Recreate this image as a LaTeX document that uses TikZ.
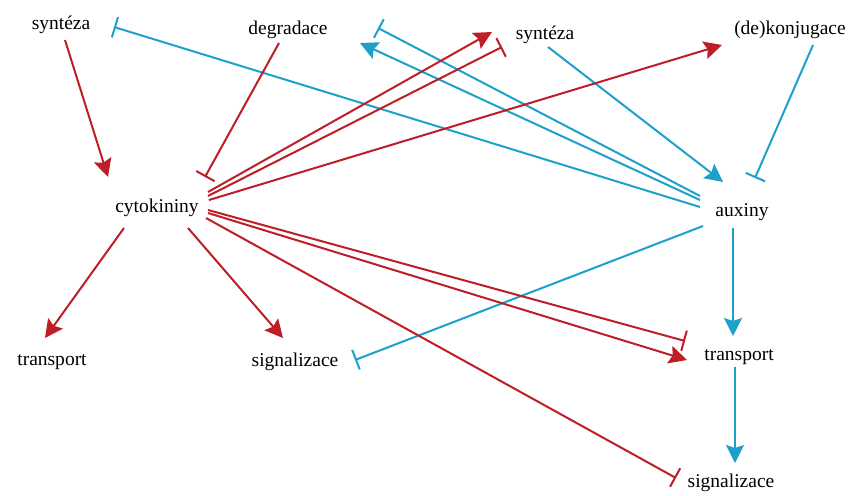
\documentclass[tikz,border=0pt]{standalone}
\usepackage{fontspec}
\setmainfont{Liberation Serif}
\usetikzlibrary{arrows.meta}
\definecolor{cred}{RGB}{190,30,40}
\definecolor{cblue}{RGB}{30,160,205}
\tikzset{
  lbl/.style={inner sep=0pt, font=\fontsize{19.5}{22}\selectfont, text=black},
  tip/.style={-{Stealth[length=18pt,width=18pt,inset=3pt]}},
  bar/.style={-{Bar[width=21pt,line width=2pt]}},
  ra/.style={draw=cred, line width=2pt, tip},
  rb/.style={draw=cred, line width=2pt, bar},
  ba/.style={draw=cblue, line width=2pt, tip},
  bb/.style={draw=cblue, line width=2pt, bar},
}
\begin{document}
\begin{tikzpicture}[x=1pt,y=-1pt]
\useasboundingbox[fill=white] (0,0) rectangle (850,495);
\node[lbl] (syn1) at (61,25) {syntéza};
\node[lbl] (deg) at (288,30) {degradace};
\node[lbl] (syn2) at (545,35) {syntéza};
\node[lbl] (konj) at (790,30) {(de)konjugace};
\node[lbl] (cyt) at (157,208) {cytokininy};
\node[lbl] (aux) at (742,212) {auxiny};
\node[lbl] (tr1) at (52,362) {transport};
\node[lbl] (sig1) at (295,362) {signalizace};
\node[lbl] (tr2) at (739,357) {transport};
\node[lbl] (sig2) at (731,483) {signalizace};
% blue (auxin)
\draw[bb] ([shift={(-42,-5)}]aux.center) -- ([shift={(53,2)}]syn1.center);
\draw[bb] ([shift={(-42,-16)}]aux.center) -- ([shift={(90,-2)}]deg.center);
\draw[ba] ([shift={(-42,-12)}]aux.center) -- ([shift={(72,13)}]deg.center);
\draw[ba] ([shift={(3,12)}]syn2.center) -- ([shift={(-19,-30)}]aux.center);
\draw[bb] ([shift={(23,15)}]konj.center) -- ([shift={(13,-34)}]aux.center);
\draw[bb] ([shift={(-39,14)}]aux.center) -- ([shift={(60,-2)}]sig1.center);
\draw[ba] ([shift={(-9,16)}]aux.center) -- ([shift={(-6,-21)}]tr2.center);
\draw[ba] ([shift={(-4,10)}]tr2.center) -- ([shift={(4,-20)}]sig2.center);
% red (cytokinin)
\draw[ra] ([shift={(4,15)}]syn1.center) -- ([shift={(-49,-31)}]cyt.center);
\draw[rb] ([shift={(-9,13)}]deg.center) -- ([shift={(48,-31)}]cyt.center);
\draw[ra] ([shift={(51,-16)}]cyt.center) -- ([shift={(-53,-3)}]syn2.center);
\draw[rb] ([shift={(51,-12)}]cyt.center) -- ([shift={(-43,12)}]syn2.center);
\draw[ra] ([shift={(52,-8)}]cyt.center) -- ([shift={(-68,15)}]konj.center);
\draw[ra] ([shift={(-33,20)}]cyt.center) -- ([shift={(-7,-24)}]tr1.center);
\draw[ra] ([shift={(31,20)}]cyt.center) -- ([shift={(-12,-24)}]sig1.center);
\draw[rb] ([shift={(51,2)}]cyt.center) -- ([shift={(-54,-16)}]tr2.center);
\draw[ra] ([shift={(51,5)}]cyt.center) -- ([shift={(-52,3)}]tr2.center);
\draw[rb] ([shift={(49,10)}]cyt.center) -- ([shift={(-55,-5)}]sig2.center);
\end{tikzpicture}
\end{document}
